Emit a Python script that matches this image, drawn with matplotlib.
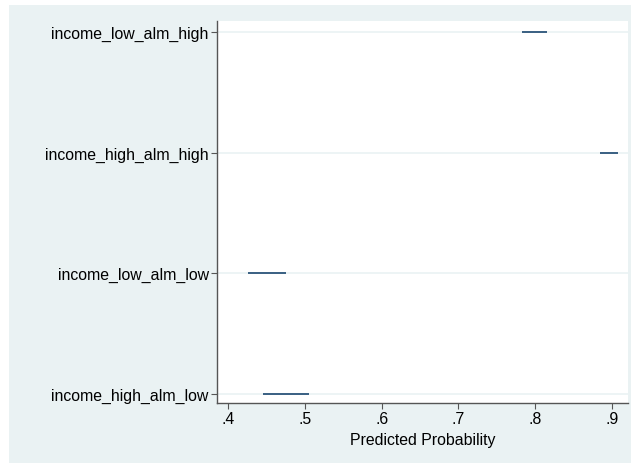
import matplotlib
matplotlib.use("Agg")
import matplotlib.pyplot as plt
from matplotlib.patches import Rectangle

categories = ["income_low_alm_high", "income_high_alm_high",
              "income_low_alm_low", "income_high_alm_low"]
ci_low = [0.783, 0.884, 0.426, 0.446]
ci_high = [0.815, 0.908, 0.476, 0.506]
xticks = [0.4, 0.5, 0.6, 0.7, 0.8, 0.9]
xticklabels = [".4", ".5", ".6", ".7", ".8", ".9"]

plt.rcParams['font.family'] = ['Liberation Sans', 'DejaVu Sans']

W, H = 631, 464
fig = plt.figure(figsize=(W / 100, H / 100), dpi=100)
fig.patch.set_facecolor("white")
bg = "#EAF2F3"
fig.patches.append(Rectangle((9 / W, 0), 1 - 9 / W, 1 - 6 / H,
                             transform=fig.transFigure, facecolor=bg,
                             edgecolor="none", zorder=-10))

left, right, top, bottom = 217, 628, 22, 404
ax = fig.add_axes([left / W, 1 - bottom / H, (right - left) / W, (bottom - top) / H])
ax.set_facecolor("white")

ypos = list(range(len(categories)))[::-1]
for y in ypos:
    ax.axhline(y, color=bg, lw=1.2, zorder=1)
navy = "#1a476f"
ax.hlines(ypos, ci_low, ci_high, color=navy, lw=1.2, zorder=3)

px = 0.1 / 76.8
ax.set_xlim(0.4 - 11 * px, 0.9 + 16 * px)
unit = 120.67
ax.set_ylim(-9 / unit, 3 + 11 / unit)

fs = 11.4
ax.set_yticks(ypos)
ax.set_yticklabels(categories, fontsize=fs)
ax.set_xticks(xticks)
ax.set_xticklabels(xticklabels, fontsize=fs)
ax.set_xlabel("Predicted Probability", fontsize=fs, labelpad=4)

for s in ["top", "right"]:
    ax.spines[s].set_visible(False)
for s in ["left", "bottom"]:
    ax.spines[s].set_color("#555555")
    ax.spines[s].set_linewidth(1.0)
ax.tick_params(axis="both", direction="out", length=4, width=0.8, color="#555555", pad=2)

fig.savefig("out.png", dpi=100, facecolor=fig.get_facecolor())
